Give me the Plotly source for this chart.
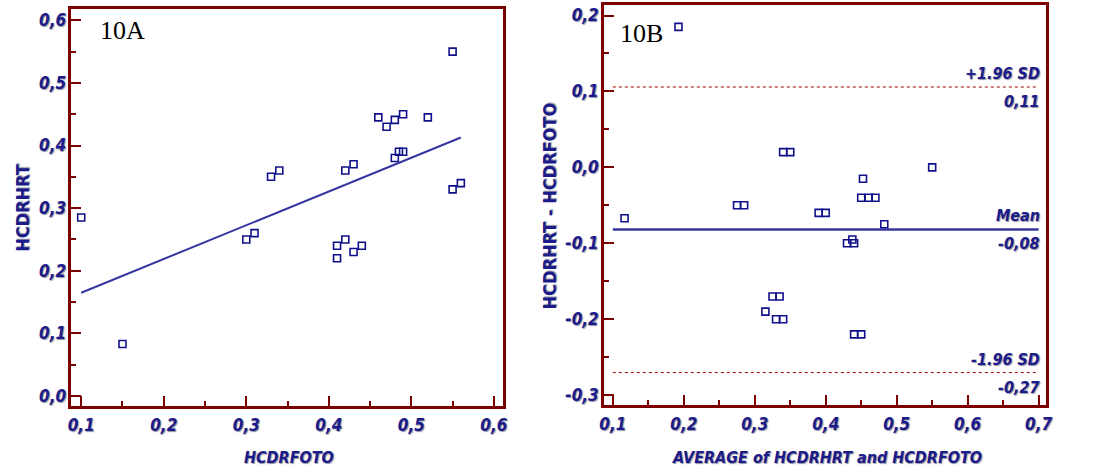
import plotly.graph_objects as go

# --- Panel 10A: HCDRHRT vs HCDRFOTO -------------------------------------
hcdrfoto = [0.10, 0.15, 0.30, 0.31, 0.33, 0.34, 0.41, 0.41, 0.42, 0.42, 0.43, 0.43,
            0.44, 0.46, 0.47, 0.48, 0.48, 0.485, 0.49, 0.49, 0.52, 0.55, 0.55, 0.56]
hcdrhrt = [0.285, 0.083, 0.25, 0.26, 0.35, 0.36, 0.24, 0.22, 0.25, 0.36, 0.23, 0.37,
           0.24, 0.445, 0.43, 0.441, 0.38, 0.39, 0.45, 0.39, 0.445, 0.55, 0.33, 0.34]
fit_intercept = 0.111
fit_slope = 0.539

a_xticks = [0.1, 0.2, 0.3, 0.4, 0.5, 0.6]
a_xticktext = ["0,1", "0,2", "0,3", "0,4", "0,5", "0,6"]
a_yticks = [0.0, 0.1, 0.2, 0.3, 0.4, 0.5, 0.6]
a_yticktext = ["0,0", "0,1", "0,2", "0,3", "0,4", "0,5", "0,6"]

# --- Panel 10B: Bland-Altman ---------------------------------------------
ba_average = [0.1165, 0.1925, 0.275, 0.285, 0.34, 0.35, 0.39, 0.40, 0.4525, 0.45,
              0.4605, 0.47, 0.4825, 0.55, 0.43, 0.4375, 0.44, 0.325, 0.335, 0.315,
              0.33, 0.34, 0.44, 0.45]
ba_difference = [-0.067, 0.185, -0.05, -0.05, 0.02, 0.02, -0.06, -0.06, -0.015, -0.04,
                 -0.04, -0.04, -0.075, 0.0, -0.10, -0.095, -0.10, -0.17, -0.17, -0.19,
                 -0.20, -0.20, -0.22, -0.22]
ba_mean = -0.0817
ba_upper = 0.1058
ba_lower = -0.2703

b_xticks = [0.1, 0.2, 0.3, 0.4, 0.5, 0.6, 0.7]
b_xticktext = ["0,1", "0,2", "0,3", "0,4", "0,5", "0,6", "0,7"]
b_yticks = [-0.3, -0.2, -0.1, 0.0, 0.1, 0.2]
b_yticktext = ["-0,3", "-0,2", "-0,1", "0,0", "0,1", "0,2"]

# --- styling ---------------------------------------------------------------
W, H = 1093, 473
NAVY = "#1b1b8a"
MAROON = "#7d0000"
LINE_BLUE = "#3636a2"
NARROW = "Liberation Sans Narrow, DejaVu Sans Condensed, sans-serif"
SHADOW = "1px 1px 1px rgba(110,110,130,0.75)"
tick_font = dict(family=NARROW, size=17, color=NAVY, weight="bold", style="italic",
                 shadow=SHADOW)
label_font = dict(family=NARROW, size=16, color=NAVY, weight="bold", style="italic",
                  shadow=SHADOW)
title_font = dict(family=NARROW, size=18, color=NAVY, weight="bold", shadow=SHADOW)


def px_x(p):
    return p / W


def px_y(p):
    return 1 - p / H


def comma(v):
    return f"{v:.2f}".replace(".", ",").replace("\u2212", "-")


fig = go.Figure()

marker = dict(symbol="square-open", size=7, color="#10108a", line=dict(width=1.6))

fig.add_trace(go.Scatter(x=hcdrfoto, y=hcdrhrt, mode="markers", marker=marker,
                         xaxis="x", yaxis="y", showlegend=False, hoverinfo="skip"))

fx = [min(hcdrfoto), max(hcdrfoto)]
fy = [fit_intercept + fit_slope * v for v in fx]
fig.add_trace(go.Scatter(x=fx, y=fy, mode="lines", line=dict(color=LINE_BLUE, width=2),
                         xaxis="x", yaxis="y", showlegend=False, hoverinfo="skip"))

fig.add_trace(go.Scatter(x=ba_average, y=ba_difference, mode="markers", marker=marker,
                         xaxis="x2", yaxis="y2", showlegend=False, hoverinfo="skip"))

span = [b_xticks[0], b_xticks[-1]]
fig.add_trace(go.Scatter(x=span, y=[ba_mean, ba_mean], mode="lines",
                         line=dict(color=LINE_BLUE, width=2.5),
                         xaxis="x2", yaxis="y2", showlegend=False, hoverinfo="skip"))
for lim in (ba_upper, ba_lower):
    fig.add_trace(go.Scatter(x=span, y=[lim, lim], mode="lines",
                             line=dict(color="#a00000", width=1, dash="dot"),
                             xaxis="x2", yaxis="y2", showlegend=False, hoverinfo="skip"))

axis_common = dict(showline=True, linecolor=MAROON, linewidth=2.5, mirror=True,
                   showgrid=False, zeroline=False, ticks="inside", ticklen=10,
                   tickwidth=1.5, tickcolor=MAROON, tickfont=tick_font,
                   tickmode="array",
                   minor=dict(ticks="inside", ticklen=5, tickwidth=1.5,
                              tickcolor=MAROON, dtick=0.05, showgrid=False))

fig.update_layout(
    width=W, height=H,
    margin=dict(l=0, r=0, t=0, b=0),
    paper_bgcolor="white", plot_bgcolor="white",
    xaxis=dict(axis_common, domain=[px_x(67), px_x(503)], range=[0.088, 0.611],
               tickvals=a_xticks, ticktext=a_xticktext, anchor="y",
               ticklabelstandoff=2),
    yaxis=dict(axis_common, domain=[px_y(406), px_y(9)], range=[-0.016, 0.618],
               tickvals=a_yticks, ticktext=a_yticktext, anchor="x",
               ticklabelstandoff=-1),
    xaxis2=dict(axis_common, domain=[px_x(605), px_x(1052)], range=[0.0874, 0.711],
                tickvals=b_xticks, ticktext=b_xticktext, anchor="y2",
                ticklabelstandoff=2),
    yaxis2=dict(axis_common, domain=[px_y(405), px_y(4.5)], range=[-0.313, 0.2145],
                tickvals=b_yticks, ticktext=b_yticktext, anchor="x2",
                ticklabelstandoff=-1),
)

annotations = [
    # panel labels
    dict(x=px_x(94), y=px_y(31), text="10A", xanchor="left", yanchor="middle",
         font=dict(family="Liberation Serif, Times New Roman, serif", size=26, color="black")),
    dict(x=px_x(619), y=px_y(33), text="10B", xanchor="left", yanchor="middle",
         font=dict(family="Liberation Serif, Times New Roman, serif", size=26, color="black")),
    # axis titles
    dict(x=px_x(287), y=px_y(457), text="HCDRFOTO", xanchor="center", yanchor="middle",
         font=label_font),
    dict(x=px_x(830), y=px_y(457), text="AVERAGE of HCDRHRT and HCDRFOTO",
         xanchor="center", yanchor="middle", font=label_font),
    dict(x=px_x(17), y=px_y(208), text="HCDRHRT", textangle=-90, xanchor="center",
         yanchor="middle", font=title_font),
    dict(x=px_x(550), y=px_y(206), text="HCDRHRT - HCDRFOTO", textangle=-90,
         xanchor="center", yanchor="middle", font=title_font),
]

# limit-of-agreement labels, right aligned inside the plot
for value, name in ((ba_upper, "+1.96 SD"), (ba_mean, "Mean"), (ba_lower, "-1.96 SD")):
    annotations.append(dict(x=px_x(1048), y=value, xref="paper", yref="y2", text=name,
                            xanchor="right", yanchor="bottom", yshift=2, font=label_font,
                            showarrow=False))
    annotations.append(dict(x=px_x(1048), y=value, xref="paper", yref="y2",
                            text=comma(value), xanchor="right", yanchor="top", yshift=-3,
                            font=label_font, showarrow=False))

for a in annotations:
    a.setdefault("xref", "paper")
    a.setdefault("yref", "paper")
    a.setdefault("showarrow", False)
fig.update_layout(annotations=annotations)

fig.write_html("out.html")
